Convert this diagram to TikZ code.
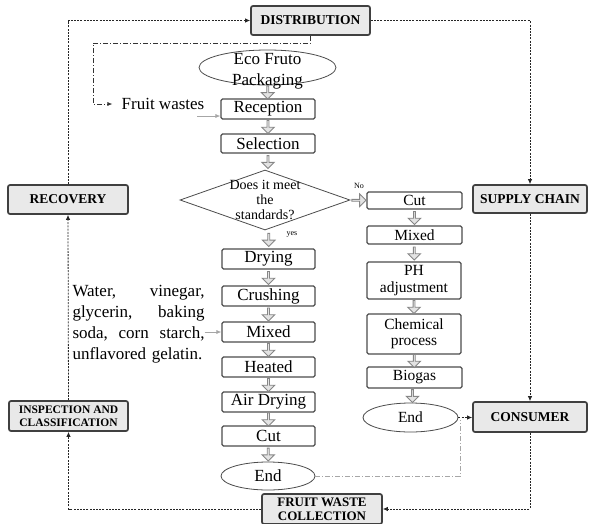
\documentclass[tikz,border=0pt]{standalone}
\usepackage{fontspec}
\setmainfont{Liberation Serif}
\usetikzlibrary{shapes.geometric,shapes.arrows,arrows.meta,calc}
\begin{document}
\begin{tikzpicture}[x=1pt,y=-1pt,
 outer/.style={draw=black!75, line width=1.7pt, fill=gray!17, rounded corners=2pt, inner sep=0pt, align=center, font=\bfseries\fontsize{13.5}{14}\selectfont},
 proc/.style={draw=black!70, line width=1.1pt, rounded corners=1.5pt, fill=white, inner sep=0pt, align=center, font=\fontsize{17}{19}\selectfont},
 procR/.style={proc, font=\fontsize{15.5}{16.5}\selectfont},
 endell/.style={ellipse, draw=black!70, line width=0.8pt, fill=white, inner sep=0pt},
 barrow/.style={single arrow, draw=gray!95, fill=gray!22, line width=0.9pt, minimum height=13pt, minimum width=12.5pt, single arrow head extend=2.5pt, inner sep=0pt, shape border rotate=270},
 dotline/.style={black!85, line width=0.8pt, dash pattern=on 2pt off 1.2pt, -{Latex[length=5pt,width=4.5pt]}},
 ddline/.style={black!80, line width=0.75pt, dash pattern=on 5pt off 2pt on 1pt off 2pt},
 ddgray/.style={gray!70, line width=0.7pt, dash pattern=on 5pt off 2pt on 1pt off 2pt},
 grayarrow/.style={gray!70, line width=0.7pt, -{Latex[length=5pt,width=4pt]}},
 small/.style={inner sep=0pt, font=\fontsize{8}{9}\selectfont}
]
\useasboundingbox (0,0) rectangle (589,523);

% outer cycle boxes
\node[outer, minimum width=119pt, minimum height=29pt] (dist) at (310.5,20.5) {DISTRIBUTION};
\node[outer, minimum width=114pt, minimum height=28pt] (supply) at (530,199) {SUPPLY CHAIN};
\node[outer, minimum width=114pt, minimum height=30pt] (consumer) at (530,417) {CONSUMER};
\node[outer, minimum width=120pt, minimum height=30pt, font=\bfseries\fontsize{13}{13.5}\selectfont] (fwc) at (322,509) {FRUIT WASTE\\COLLECTION};
\node[outer, minimum width=119pt, minimum height=30pt, font=\bfseries\fontsize{11.5}{13}\selectfont] (insp) at (68.5,416) {INSPECTION AND\\CLASSIFICATION};
\node[outer, minimum width=120pt, minimum height=29pt] (recovery) at (68,199.5) {RECOVERY};

% main column
\node[endell, minimum width=137pt, minimum height=35pt] (eco) at (267.5,67.5) {};
\node[inner sep=0pt, align=center, font=\fontsize{17}{21}\selectfont] (ecotext) at (267.5,71) {Eco Fruto\\Packaging};
\node[proc, minimum width=94pt, minimum height=20pt] (recep) at (268,109) {Reception};
\node[proc, minimum width=94pt, minimum height=19pt] (selec) at (268,143.5) {Selection};
\node[diamond, draw=black!70, line width=0.8pt, fill=white, minimum width=170pt, minimum height=60pt, inner sep=0pt] (dia) at (265,200) {};
\node[inner sep=0pt, align=center, font=\fontsize{14}{15}\selectfont] (diatext) at (265,200) {Does it meet\\the\\standards?};
\node[small] (no) at (359,186) {No};
\node[small] (yes) at (292,234) {yes};

\node[proc, minimum width=93pt, minimum height=20pt] (dry) at (268.5,259) {Drying};
\node[proc, minimum width=93pt, minimum height=20pt] (crush) at (268.5,296) {Crushing};
\node[proc, minimum width=93pt, minimum height=20pt] (mixL) at (268.5,332) {Mixed};
\node[proc, minimum width=93pt, minimum height=20pt] (heat) at (268.5,367) {Heated};
\node[proc, minimum width=93pt, minimum height=20pt] (air) at (268.5,402) {Air Drying};
\node[proc, minimum width=93pt, minimum height=20pt] (cutL) at (268.5,436) {Cut};
\node[endell, minimum width=94pt, minimum height=28pt, font=\fontsize{17}{19}\selectfont] (endL) at (268,476) {End};

% right column
\node[procR, minimum width=95pt, minimum height=17pt] (cutR) at (414.5,200.5) {Cut};
\node[procR, minimum width=95pt, minimum height=18pt] (mixR) at (414.5,235) {Mixed};
\node[procR, minimum width=94pt, minimum height=37pt] (ph) at (414,280.5) {PH\\adjustment};
\node[procR, minimum width=94pt, minimum height=40pt] (chem) at (414,334) {Chemical\\process};
\node[procR, minimum width=95pt, minimum height=21pt] (bio) at (414.5,377.5) {Biogas};
\node[endell, minimum width=95pt, minimum height=29pt, font=\fontsize{15.5}{17}\selectfont] (endR) at (410.5,417.5) {End};

% side texts
\node[inner sep=0pt, font=\fontsize{17}{19}\selectfont] (fw) at (163,104) {Fruit wastes};
\node[inner sep=0pt, text width=132pt, align=left, font=\fontsize{17}{21}\selectfont] (ingr) at (138.5,324) {Water,\hfill vinegar,\\glycerin,\hfill baking\\soda,\hfill corn\hfill starch,\\unflavored gelatin.};

% block arrows
\node[barrow] (b1) at ($(eco.south)!0.5!(recep.north)$) {};
\node[barrow] (b2) at ($(recep.south)!0.5!(selec.north)$) {};
\node[barrow] (b3) at ($(selec.south)!0.5!(dia.north)+(1.5,0)$) {};
\node[barrow] (b4) at ($(dia.south)!0.5!(dry.north)+(2,0)$) {};
\node[barrow] (b5) at ($(dry.south)!0.5!(crush.north)$) {};
\node[barrow] (b6) at ($(crush.south)!0.5!(mixL.north)$) {};
\node[barrow] (b7) at ($(mixL.south)!0.5!(heat.north)$) {};
\node[barrow] (b8) at ($(heat.south)!0.5!(air.north)$) {};
\node[barrow] (b9) at ($(air.south)!0.5!(cutL.north)$) {};
\node[barrow] (b10) at ($(cutL.south)!0.5!(endL.north)$) {};
\node[barrow, shape border rotate=0, minimum height=14pt] (b11) at ($(dia.east)!0.5!(cutR.west)$) {};
\node[barrow] (b12) at ($(cutR.south)!0.5!(mixR.north)$) {};
\node[barrow] (b13) at ($(mixR.south)!0.5!(ph.north)$) {};
\node[barrow] (b14) at ($(ph.south)!0.5!(chem.north)$) {};
\node[barrow] (b15) at ($(chem.south)!0.5!(bio.north)$) {};
\node[barrow] (b16) at ($(bio.south)!0.5!(endR.north)$) {};

% cycle connectors
\draw[dotline] (recovery.north) |- (dist.west);
\draw[dotline] (dist.east) -| (supply.north);
\draw[dotline] (supply.south) -- (consumer.north);
\draw[dotline] (consumer.south) |- (fwc.east);
\draw[dotline] (fwc.west) -| (insp.south);
\draw[dotline] (insp.north) -- (recovery.south);
\draw[dotline] (endR.east) -- (endR.east -| consumer.west);

% dash-dot connectors
\coordinate (c1) at (93,43);
\draw[ddline, -{Latex[length=5pt,width=4pt]}, shorten >=9pt] (dist.south) |- (c1) |- (fw.west);
\coordinate (j) at (460,420);
\draw[ddgray] (endL.east) -| (j);

% gray input arrows
\coordinate (g1) at (197,116);
\draw[grayarrow] (g1) -- (g1 -| recep.west);
\draw[grayarrow] (ingr.east |- mixL.west) -- (mixL.west);
\end{tikzpicture}
\end{document}
